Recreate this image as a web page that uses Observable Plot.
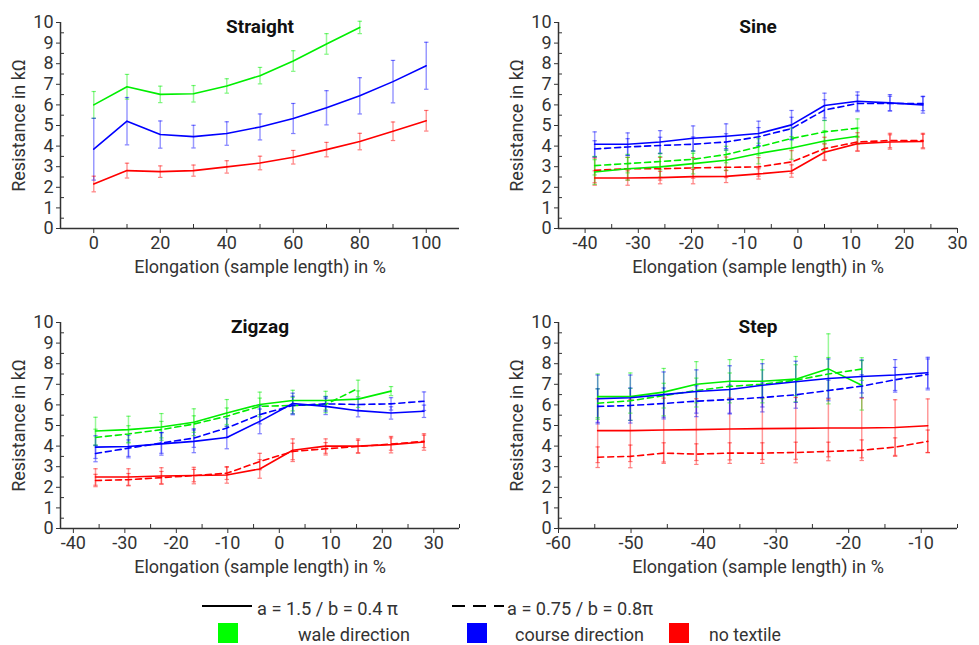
<!DOCTYPE html>
<html><head><meta charset="utf-8">
<script src="https://cdn.jsdelivr.net/npm/d3@7"></script>
<script src="https://cdn.jsdelivr.net/npm/@observablehq/plot@0.6"></script>
<style>
body{margin:0;background:#fff;}
#root{position:relative;width:979px;height:645px;font-family:Roboto,sans-serif;overflow:hidden;}
.panel{position:absolute;}
#legend{position:absolute;left:0;top:0;}
</style></head><body><div id="root"></div>
<script>
// ---------- colours / legend labels ----------
const colorWale = "#00ee00", colorCourse = "#0000ff", colorNone = "#ff0000";
const lineStyleLabels = ["a = 1.5 / b = 0.4 \u03c0", "a = 0.75 / b = 0.8\u03c0"];
const directionLabels = ["wale direction", "course direction", "no textile"];
const yTicks = [0,1,2,3,4,5,6,7,8,9,10];
const yMinorTicks = [0.5,1.5,2.5,3.5,4.5,5.5,6.5,7.5,8.5,9.5];

// ---------- Straight ----------
const straightX = [0,10,20,30,40,50,60,70,80,90,100];
const straightWale = [6.0,6.88,6.51,6.54,6.92,7.42,8.13,8.96,9.76];
const straightWaleErr = [0.65,0.6,0.4,0.4,0.35,0.4,0.5,0.5,0.3];
const straightCourse = [3.85,5.21,4.56,4.46,4.61,4.93,5.34,5.86,6.44,7.13,7.9];
const straightCourseErr = [1.5,1.15,0.66,0.55,0.57,0.63,0.73,0.83,0.88,1.03,1.14];
const straightNone = [2.16,2.81,2.76,2.81,2.99,3.18,3.46,3.83,4.22,4.72,5.23];
const straightNoneErr = [0.38,0.36,0.28,0.27,0.3,0.33,0.33,0.35,0.4,0.45,0.5];
const straightTicks = [0,20,40,60,80,100];
const straightMinor = [10,30,50,70,90];

// ---------- Sine ----------
const sineX = [-38.2,-32.0,-25.9,-19.7,-13.5,-7.4,-1.2,5.0,11.2,17.3,23.5];
const sineWaleA = [2.74,2.9,2.99,3.15,3.31,3.64,3.91,4.25,4.48];
const sineWaleAErr = [0.6,0.55,0.5,0.5,0.5,0.5,0.55,0.5,0.4];
const sineWaleB = [3.05,3.15,3.25,3.36,3.59,3.96,4.37,4.69,4.87];
const sineWaleBErr = [0.45,0.45,0.4,0.4,0.4,0.4,0.5,0.55,0.45];
const sineCourseA = [4.09,4.09,4.2,4.38,4.48,4.61,5.03,5.97,6.18,6.1,6.0];
const sineCourseAErr = [0.6,0.55,0.55,0.6,0.6,0.6,0.7,0.6,0.45,0.4,0.4];
const sineCourseB = [3.86,3.96,4.03,4.09,4.2,4.45,4.85,5.75,6.07,6.07,6.07];
const sineCourseBErr = [0.4,0.4,0.4,0.35,0.4,0.45,0.55,0.5,0.4,0.35,0.35];
const sineNoneA = [2.45,2.45,2.47,2.52,2.53,2.65,2.79,3.7,4.12,4.2,4.22];
const sineNoneAErr = [0.35,0.35,0.3,0.35,0.3,0.25,0.3,0.4,0.35,0.35,0.35];
const sineNoneB = [2.82,2.9,2.9,2.94,2.97,2.99,3.23,3.88,4.2,4.27,4.27];
const sineNoneBErr = [0.6,0.55,0.55,0.5,0.5,0.45,0.55,0.55,0.45,0.35,0.35];
const sineTicks = [-40,-30,-20,-10,0,10,20,30];
const sineMinor = [-35,-25,-15,-5,5,15,25];

// ---------- Zigzag ----------
const zigX = [-35.7,-29.3,-22.9,-16.6,-10.2,-3.8,2.6,9.0,15.3,21.7,28.1];
const zigWaleA = [4.73,4.8,4.93,5.16,5.61,6.02,6.21,6.21,6.28,6.67];
const zigWaleAErr = [0.67,0.65,0.65,0.65,0.65,0.6,0.5,0.45,0.4,0.22];
const zigWaleB = [4.42,4.59,4.8,5.07,5.45,5.93,5.97,6.02,6.8];
const zigWaleBErr = [0.4,0.4,0.4,0.4,0.4,0.4,0.4,0.4,0.4];
const zigCourseA = [3.95,3.98,4.11,4.23,4.42,5.2,6.07,5.93,5.72,5.61,5.69];
const zigCourseAErr = [0.55,0.55,0.55,0.55,0.55,0.6,0.5,0.4,0.3,0.3,0.3];
const zigCourseB = [3.64,3.9,4.15,4.39,4.88,5.53,5.97,6.05,6.02,6.05,6.18];
const zigCourseBErr = [0.4,0.4,0.5,0.45,0.45,0.45,0.45,0.35,0.3,0.3,0.45];
const zigNoneA = [2.5,2.5,2.55,2.57,2.6,2.89,3.8,4.0,4.0,4.07,4.2];
const zigNoneAErr = [0.4,0.4,0.4,0.4,0.4,0.45,0.55,0.35,0.35,0.4,0.4];
const zigNoneB = [2.33,2.37,2.47,2.57,2.68,3.25,3.74,3.87,3.98,4.1,4.23];
const zigNoneBErr = [0.3,0.3,0.3,0.3,0.3,0.4,0.4,0.3,0.3,0.3,0.3];
const zigTicks = [-40,-30,-20,-10,0,10,20,30];
const zigMinor = [-35,-25,-15,-5,5,15,25,35];

// ---------- Step ----------
const stepX = [-54.6,-50.1,-45.5,-41.0,-36.4,-31.9,-27.3,-22.8,-18.2,-13.6,-9.1];
const stepWaleA = [6.4,6.4,6.62,7.0,7.15,7.15,7.25,7.75,6.95];
const stepWaleAErr = [1.1,1.15,1.15,1.1,1.05,1.05,1.1,1.7,1.2];
const stepWaleB = [6.08,6.2,6.45,6.7,6.9,7.0,7.2,7.5,7.74];
const stepWaleBErr = [0.7,0.6,0.6,0.6,0.65,0.7,0.75,0.8,0.55];
const stepCourseA = [6.3,6.35,6.5,6.65,6.75,6.95,7.12,7.28,7.38,7.45,7.56];
const stepCourseAErr = [1.15,1.1,1.1,1.05,1.15,1.05,1.0,0.95,0.8,0.75,0.75];
const stepCourseB = [5.93,5.97,6.07,6.18,6.26,6.36,6.49,6.7,6.91,7.22,7.48];
const stepCourseBErr = [0.85,0.85,0.75,0.75,0.7,0.7,0.65,0.5,0.55,0.6,0.75];
const stepNoneA = [4.75,4.75,4.78,4.8,4.83,4.85,4.86,4.88,4.88,4.9,4.99];
const stepNoneAErr = [1.55,1.5,1.55,1.5,1.5,1.5,1.5,1.4,1.45,1.35,1.3];
const stepNoneB = [3.46,3.5,3.66,3.61,3.66,3.66,3.69,3.74,3.8,3.95,4.23];
const stepNoneBErr = [0.5,0.55,0.5,0.5,0.5,0.5,0.5,0.45,0.5,0.45,0.55];
const stepTicks = [-60,-50,-40,-30,-20,-10];
const stepMinor = [-55,-45,-35,-25,-15,-5];

// ---------- panel configs ----------
const panels = [
  {title: "Straight", left: 0, top: 0, xs: straightX, domain: [-10,110], ticks: straightTicks, minor: straightMinor,
   series: [
     {y: straightNone, err: straightNoneErr, color: colorNone, dash: false},
     {y: straightWale, err: straightWaleErr, color: colorWale, dash: false},
     {y: straightCourse, err: straightCourseErr, color: colorCourse, dash: false}]},
  {title: "Sine", left: 498, top: 0, xs: sineX, domain: [-45,30], ticks: sineTicks, minor: sineMinor,
   series: [
     {y: sineNoneB, err: sineNoneBErr, color: colorNone, dash: true},
     {y: sineNoneA, err: sineNoneAErr, color: colorNone, dash: false},
     {y: sineWaleB, err: sineWaleBErr, color: colorWale, dash: true},
     {y: sineWaleA, err: sineWaleAErr, color: colorWale, dash: false},
     {y: sineCourseB, err: sineCourseBErr, color: colorCourse, dash: true},
     {y: sineCourseA, err: sineCourseAErr, color: colorCourse, dash: false}]},
  {title: "Zigzag", left: 0, top: 300, xs: zigX, domain: [-42.5,35], ticks: zigTicks, minor: zigMinor,
   series: [
     {y: zigNoneB, err: zigNoneBErr, color: colorNone, dash: true},
     {y: zigNoneA, err: zigNoneAErr, color: colorNone, dash: false},
     {y: zigWaleB, err: zigWaleBErr, color: colorWale, dash: true},
     {y: zigWaleA, err: zigWaleAErr, color: colorWale, dash: false},
     {y: zigCourseB, err: zigCourseBErr, color: colorCourse, dash: true},
     {y: zigCourseA, err: zigCourseAErr, color: colorCourse, dash: false}]},
  {title: "Step", left: 498, top: 300, xs: stepX, domain: [-60,-5], ticks: stepTicks, minor: stepMinor,
   series: [
     {y: stepNoneB, err: stepNoneBErr, color: colorNone, dash: true},
     {y: stepNoneA, err: stepNoneAErr, color: colorNone, dash: false},
     {y: stepWaleB, err: stepWaleBErr, color: colorWale, dash: true},
     {y: stepWaleA, err: stepWaleAErr, color: colorWale, dash: false},
     {y: stepCourseB, err: stepCourseBErr, color: colorCourse, dash: true},
     {y: stepCourseA, err: stepCourseAErr, color: colorCourse, dash: false}]}
];

const W = 490, H = 290, ML = 60, MR = 31, MT = 22, MB = 62;
const capSymbol = {draw(ctx, size) { const r = Math.sqrt(size / Math.PI); ctx.moveTo(-r, 0); ctx.lineTo(r, 0); }};
const axisColor = "#333";
const root = document.getElementById("root");

for (const p of panels) {
  const rows = [];
  p.series.forEach((s, si) => s.y.forEach((v, i) => rows.push({x: p.xs[i], y: v, lo: v - s.err[i], hi: v + s.err[i], color: s.color, si})));
  const marks = [
    Plot.ruleY(yMinorTicks, {stroke: axisColor, strokeWidth: 1, insetRight: W - ML - MR - 4}),
    Plot.ruleX(p.minor, {stroke: axisColor, strokeWidth: 1, insetTop: H - MT - MB - 4}),
    Plot.ruleX(rows, {x: "x", y1: "lo", y2: "hi", stroke: "color", strokeOpacity: 0.4, strokeWidth: 1.5}),
    Plot.dot(rows, {x: "x", y: "lo", symbol: capSymbol, r: 2.2, stroke: "color", strokeOpacity: 0.5, strokeWidth: 1.2, fill: "none"}),
    Plot.dot(rows, {x: "x", y: "hi", symbol: capSymbol, r: 2.2, stroke: "color", strokeOpacity: 0.5, strokeWidth: 1.2, fill: "none"}),
  ];
  p.series.forEach((s, si) => {
    marks.push(Plot.line(rows.filter(r => r.si === si), {x: "x", y: "y", stroke: s.color, strokeWidth: 1.6,
      strokeDasharray: s.dash ? "6,4" : null}));
  });
  marks.push(
    Plot.ruleY([0], {stroke: axisColor, strokeWidth: 1.5}),
    Plot.ruleX([p.domain[0]], {y1: 0, y2: 10, stroke: axisColor, strokeWidth: 1.5}),
    Plot.axisY({ticks: yTicks, tickSize: 4, tickPadding: 3, stroke: axisColor, fill: "#333", fontSize: 18,
      label: "Resistance in k\u03a9", labelAnchor: "center", labelOffset: 48, labelArrow: "none"}),
    Plot.axisX({ticks: p.ticks, tickSize: 5, tickPadding: 3, stroke: axisColor, fill: "#333", fontSize: 18,
      tickFormat: d => String(d), label: "Elongation (sample length) in %", labelAnchor: "center", labelOffset: 44, labelArrow: "none"}),
    Plot.text([p.title], {frameAnchor: "top", dy: -3, fontSize: 19, fontWeight: "bold", fill: "#111"})
  );
  const chart = Plot.plot({
    width: W, height: H, marginLeft: ML, marginRight: MR, marginTop: MT, marginBottom: MB,
    x: {domain: p.domain, axis: null}, y: {domain: [0, 10], axis: null},
    color: {type: "identity"},
    style: {fontFamily: "Roboto, sans-serif", fontSize: "18px", color: "#333", background: "transparent", overflow: "visible"},
    marks
  });
  chart.classList.add("panel");
  chart.style.left = p.left + "px";
  chart.style.top = p.top + "px";
  root.appendChild(chart);
}

// ---------- legend ----------
const svg = d3.select(root).append("svg").attr("id", "legend").attr("width", 979).attr("height", 645)
  .style("font-family", "Roboto, sans-serif").style("font-size", "18px").style("pointer-events", "none");
const lineItems = [{x1: 202, x2: 252, tx: 257, len: 141, dash: null}, {x1: 452, x2: 504, tx: 507, len: 146, dash: "13,8"}];
lineItems.forEach((it, i) => {
  svg.append("line").attr("x1", it.x1).attr("x2", it.x2).attr("y1", 606).attr("y2", 606)
    .attr("stroke", "#000").attr("stroke-width", 2).attr("stroke-dasharray", it.dash);
  svg.append("text").attr("x", it.tx).attr("y", 615).attr("fill", "#333")
    .attr("textLength", it.len).attr("lengthAdjust", "spacingAndGlyphs").text(lineStyleLabels[i]);
});
const dirColors = [colorWale, colorCourse, colorNone];
const sqX = [218, 467, 669], txX = [298, 515, 709], txLen = [112, 129, 72];
directionLabels.forEach((lab, i) => {
  svg.append("rect").attr("x", sqX[i]).attr("y", 623).attr("width", 20).attr("height", 20).attr("fill", dirColors[i] === colorWale ? "#00ff00" : dirColors[i]);
  svg.append("text").attr("x", txX[i]).attr("y", 641).attr("fill", "#333")
    .attr("textLength", txLen[i]).attr("lengthAdjust", "spacingAndGlyphs").text(lab);
});
</script></body></html>
